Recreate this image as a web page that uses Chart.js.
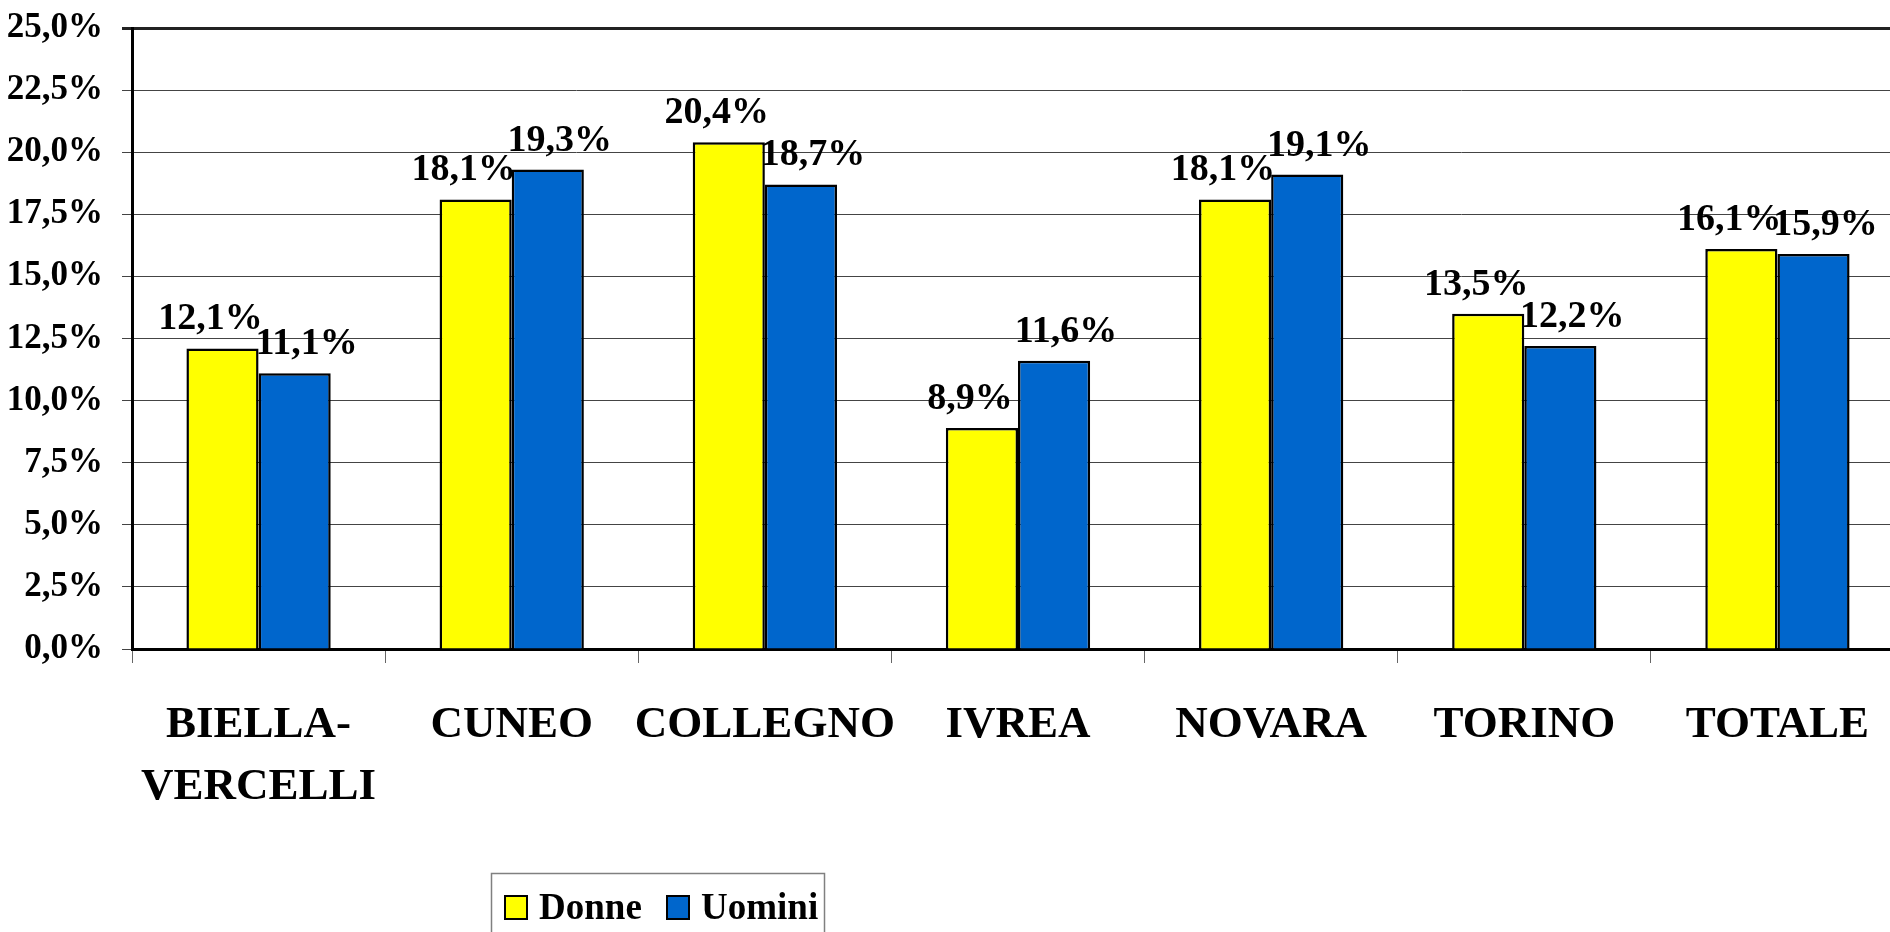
<!DOCTYPE html>
<html>
<head>
<meta charset="utf-8">
<script src="https://cdn.jsdelivr.net/npm/chart.js@4.4.1/dist/chart.umd.min.js"></script>
<style>
  html, body { margin: 0; padding: 0; background: #ffffff; overflow: hidden; }
  #wrap { width: 1910px; height: 932px; position: relative; }
</style>
</head>
<body>
<div id="wrap"><canvas id="c" width="1910" height="932"></canvas></div>
<script>
const categories = [['BIELLA-', 'VERCELLI'], 'CUNEO', 'COLLEGNO', 'IVREA', 'NOVARA', 'TORINO', 'TOTALE'];
const seriesNames = ['Donne', 'Uomini'];
const donne = [12.1, 18.1, 20.4, 8.9, 18.1, 13.5, 16.1];
const uomini = [11.1, 19.3, 18.7, 11.6, 19.1, 12.2, 15.9];
const yTickValues = [0, 2.5, 5, 7.5, 10, 12.5, 15, 17.5, 20, 22.5, 25];

const FONT = "'Liberation Serif', 'Times New Roman', serif";
const fmt = v => v.toFixed(1).replace('.', ',') + '%';

const valueLabels = {
  id: 'valueLabels',
  afterDatasetsDraw(chart) {
    const ctx = chart.ctx;
    ctx.save();
    ctx.font = 'bold 38px ' + FONT;
    ctx.fillStyle = '#000000';
    ctx.textAlign = 'center';
    ctx.textBaseline = 'alphabetic';
    const shifts = [-12, 12];
    chart.data.datasets.forEach((ds, di) => {
      const meta = chart.getDatasetMeta(di);
      meta.data.forEach((bar, i) => {
        ctx.fillText(fmt(ds.data[i]), bar.x + shifts[di], bar.y - 19);
      });
    });
    ctx.restore();
  }
};

const boxLegend = {
  id: 'boxLegend',
  afterDraw(chart) {
    const ctx = chart.ctx;
    ctx.save();
    ctx.strokeStyle = '#808080';
    ctx.lineWidth = 1.5;
    ctx.strokeRect(491.5, 873.5, 333, 100);
    ctx.font = 'bold 37px ' + FONT;
    ctx.textAlign = 'left';
    ctx.textBaseline = 'alphabetic';
    const xs = [505, 667];
    chart.data.datasets.forEach((ds, di) => {
      const x = xs[di];
      ctx.fillStyle = ds.backgroundColor;
      ctx.fillRect(x, 896, 22, 23);
      ctx.strokeStyle = '#000000';
      ctx.lineWidth = 2;
      ctx.strokeRect(x, 896, 22, 23);
      ctx.fillStyle = '#000000';
      ctx.fillText(ds.label, x + 34, 919);
    });
    ctx.restore();
  }
};

new Chart(document.getElementById('c'), {
  type: 'bar',
  data: {
    labels: categories,
    datasets: [
      { label: seriesNames[0], data: donne, backgroundColor: '#FFFF00', borderColor: '#000000', borderWidth: 2.5, borderSkipped: 'start' },
      { label: seriesNames[1], data: uomini, backgroundColor: '#0066CC', borderColor: '#000000', borderWidth: 2.5, borderSkipped: 'start' }
    ]
  },
  options: {
    responsive: false,
    animation: false,
    devicePixelRatio: 1,
    layout: { padding: { left: 0, top: 28, right: 6, bottom: 0 } },
    datasets: { bar: { categoryPercentage: 0.57, barPercentage: 1.0 } },
    plugins: {
      legend: { display: false },
      tooltip: { enabled: false },
      title: { display: false }
    },
    scales: {
      x: {
        grid: { drawOnChartArea: false, drawTicks: true, tickLength: 14, color: '#666666', lineWidth: 1, offset: true },
        border: { display: true, color: '#000000', width: 3 },
        ticks: {
          color: '#000000',
          font: { family: FONT, size: 45, weight: 'bold', lineHeight: 1.38 },
          padding: 31,
          maxRotation: 0,
          autoSkip: false
        },
        afterFit(scale) { scale.height = 932 - 649; scale.paddingTop = 0; scale.paddingBottom = 0; }
      },
      y: {
        min: 0,
        max: 25,
        afterBuildTicks(scale) { scale.ticks = yTickValues.map(v => ({ value: v })); },
        grid: {
          color: ctx => (ctx.tick && ctx.tick.value === 25) ? '#222222' : '#444444',
          lineWidth: ctx => (ctx.tick && ctx.tick.value === 25) ? 3 : 1,
          tickLength: 10,
          drawTicks: true
        },
        border: { display: true, color: '#000000', width: 3 },
        ticks: {
          color: '#000000',
          font: { family: FONT, size: 35, weight: 'bold' },
          padding: 19,
          callback: v => fmt(v)
        },
        afterFit(scale) { scale.width = 132; scale.paddingTop = 0; scale.paddingBottom = 0; }
      }
    }
  },
  plugins: [valueLabels, boxLegend]
});
</script>
</body>
</html>
